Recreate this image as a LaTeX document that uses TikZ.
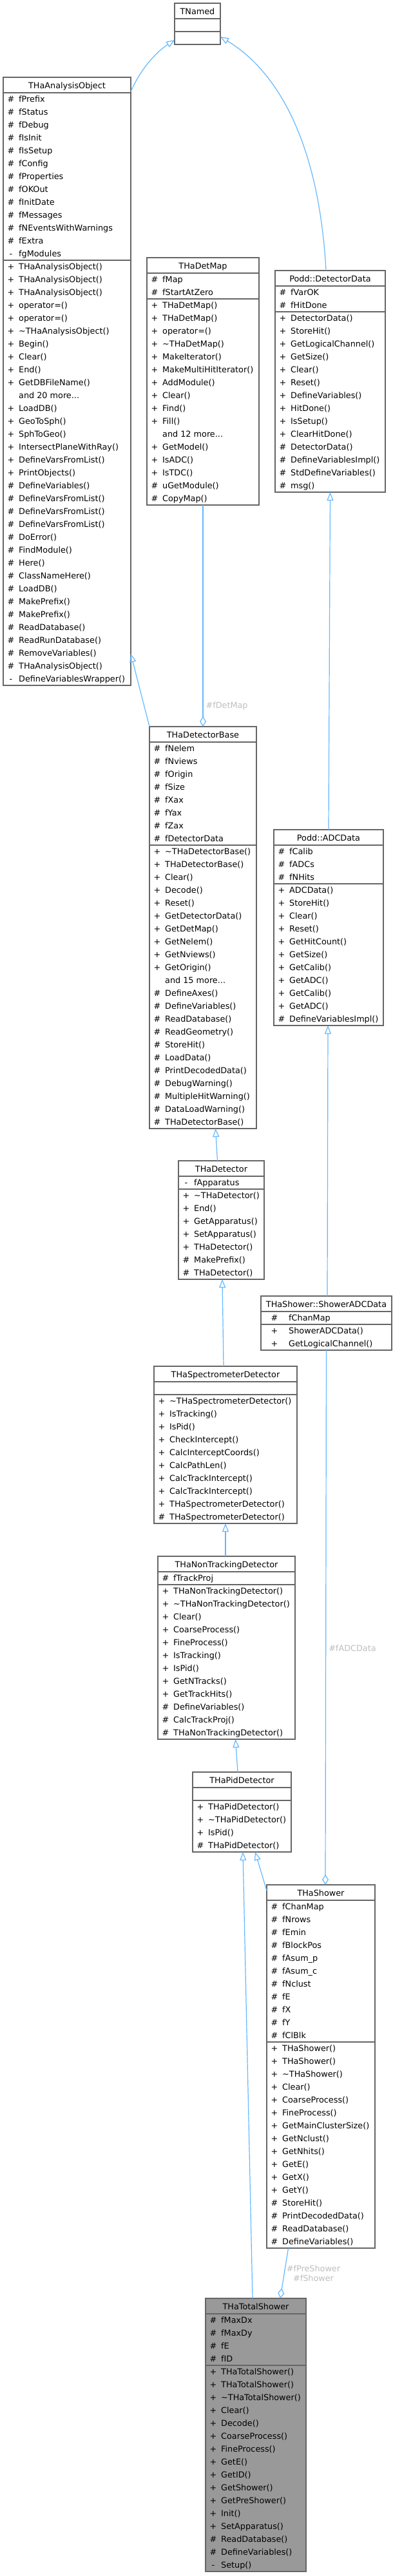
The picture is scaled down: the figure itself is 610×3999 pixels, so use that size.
\documentclass[tikz,border=0pt]{standalone}
\usepackage{fontspec}
\setmainfont{DejaVu Sans}
\usetikzlibrary{arrows.meta,calc}

\definecolor{edgeblue}{HTML}{63B8FF}
\definecolor{boxgrey}{HTML}{666666}
\definecolor{labelgrey}{HTML}{BEBEBE}
\definecolor{totalgrey}{HTML}{999999}

% column of the visibility sign and of the member name
\newcommand{\symx}{12}
\newcommand{\txtx}{24}

% #1 name, #2 left, #3 top, #4 width, #5 title,
% #6 no. of attributes, #7 attributes, #8 no. of methods, #9 methods
\newcommand{\umlclass}[9]{%
  \pgfmathsetmacro{\atth}{max(#6,1)*20}%
  \pgfmathsetmacro{\meth}{max(#8,1)*20}%
  \draw (#2,#3) node[classbox, minimum width=#4, minimum height=24+\atth+\meth] (#1) {};
  \node[classtitle] (#1-title) at ($(#1.north)+(0,17)$) {#5};
  \draw[classline] ($(#1.north west)+(0,24)$) -- ++(#4,0);
  \draw[classline] ($(#1.north west)+(0,{24+\atth})$) -- ++(#4,0);
  \ifnum#6>0\relax
  \foreach \vis/\mem [count=\i] in {#7}{%
    \node[rowsym] (#1-as\i) at ($(#1.north west)+(\symx,{20*\i+18})$) {\vis};
    \node[rowtext] (#1-at\i) at ($(#1.north west)+(\txtx,{20*\i+18})$) {\mem};
  }\fi
  \ifnum#8>0\relax
  \foreach \vis/\mem [count=\i] in {#9}{%
    \node[rowsym] (#1-ms\i) at ($(#1.north west)+(\symx,{\atth+20*\i+18})$) {\vis};
    \node[rowtext] (#1-mt\i) at ($(#1.north west)+(\txtx,{\atth+20*\i+18})$) {\mem};
  }\fi
}

\begin{document}
\begin{tikzpicture}[x=1pt, y=-1pt, font=\fontsize{12.8}{15}\selectfont]
\tikzstyle{classbox}=[draw=boxgrey, line width=1.2pt, fill=white, rectangle, anchor=north west, inner sep=0pt, outer sep=0pt]
\tikzstyle{classline}=[draw=boxgrey, line width=1.2pt]
\tikzstyle{classtitle}=[anchor=base, inner sep=0pt]
\tikzstyle{rowsym}=[anchor=base, inner sep=0pt]
\tikzstyle{rowtext}=[anchor=base west, inner sep=0pt]
\tikzstyle{inherit}=[draw=edgeblue, line width=1.2pt, -{Triangle[open, length=13pt, width=10pt]}]
\tikzstyle{aggr}=[draw=edgeblue, line width=1.2pt, -{Diamond[open, length=16pt, width=10pt]}]
\tikzstyle{elabel}=[text=labelgrey, inner sep=0pt]

\useasboundingbox (0,0) rectangle (610,3999);

\umlclass{tnamed}{271}{5}{71}{TNamed}{0}{}{0}{}

\umlclass{aobj}{5}{120}{198}{THaAnalysisObject}
  {13}{\#/fPrefix, \#/fStatus, \#/fDebug, \#/fIsInit, \#/fIsSetup, \#/fConfig, \#/fProperties,
   \#/fOKOut, \#/fInitDate, \#/fMessages, \#/fNEventsWithWarnings, \#/fExtra, -/fgModules}
  {33}{+/THaAnalysisObject(), +/THaAnalysisObject(), +/THaAnalysisObject(), +/operator=(),
   +/operator=(), +/\textasciitilde THaAnalysisObject(), +/Begin(), +/Clear(), +/End(),
   +/GetDBFileName(), {}/{and 20 more...}, +/LoadDB(), +/GeoToSph(), +/SphToGeo(),
   +/IntersectPlaneWithRay(), +/DefineVarsFromList(), +/PrintObjects(), \#/DefineVariables(),
   \#/DefineVarsFromList(), \#/DefineVarsFromList(), \#/DefineVarsFromList(), \#/DoError(),
   \#/FindModule(), \#/Here(), \#/ClassNameHere(), \#/LoadDB(), \#/MakePrefix(), \#/MakePrefix(),
   \#/ReadDatabase(), \#/ReadRunDatabase(), \#/RemoveVariables(), \#/THaAnalysisObject(),
   -/DefineVariablesWrapper()}

\umlclass{detmap}{228}{400}{174}{THaDetMap}
  {2}{\#/fMap, \#/fStartAtZero}
  {16}{+/THaDetMap(), +/THaDetMap(), +/operator=(), +/\textasciitilde THaDetMap(), +/MakeIterator(),
   +/MakeMultiHitIterator(), +/AddModule(), +/Clear(), +/Find(), +/Fill(), {}/{and 12 more...},
   +/GetModel(), +/IsADC(), +/IsTDC(), \#/uGetModule(), \#/CopyMap()}

\umlclass{ddata}{427}{420}{171}{Podd::DetectorData}
  {2}{\#/fVarOK, \#/fHitDone}
  {14}{+/DetectorData(), +/StoreHit(), +/GetLogicalChannel(), +/GetSize(), +/Clear(), +/Reset(),
   +/DefineVariables(), +/HitDone(), +/IsSetup(), +/ClearHitDone(), \#/DetectorData(),
   \#/DefineVariablesImpl(), \#/StdDefineVariables(), \#/msg()}

\umlclass{detbase}{232}{1128}{166}{THaDetectorBase}
  {8}{\#/fNelem, \#/fNviews, \#/fOrigin, \#/fSize, \#/fXax, \#/fYax, \#/fZax, \#/fDetectorData}
  {22}{+/\textasciitilde THaDetectorBase(), +/THaDetectorBase(), +/Clear(), +/Decode(), +/Reset(),
   +/GetDetectorData(), +/GetDetMap(), +/GetNelem(), +/GetNviews(), +/GetOrigin(),
   {}/{and 15 more...}, \#/DefineAxes(), \#/DefineVariables(), \#/ReadDatabase(),
   \#/ReadGeometry(), \#/StoreHit(), \#/LoadData(), \#/PrintDecodedData(), \#/DebugWarning(),
   \#/MultipleHitWarning(), \#/DataLoadWarning(), \#/THaDetectorBase()}

\umlclass{adc}{425}{1288}{170}{Podd::ADCData}
  {3}{\#/fCalib, \#/fADCs, \#/fNHits}
  {11}{+/ADCData(), +/StoreHit(), +/Clear(), +/Reset(), +/GetHitCount(), +/GetSize(),
   +/GetCalib(), +/GetADC(), +/GetCalib(), +/GetADC(), \#/DefineVariablesImpl()}

\umlclass{det}{277}{1802}{133}{THaDetector}
  {1}{-/fApparatus}
  {7}{+/\textasciitilde THaDetector(), +/End(), +/GetApparatus(), +/SetApparatus(),
   +/THaDetector(), \#/MakePrefix(), \#/THaDetector()}

\begin{scope}
\renewcommand{\symx}{21}\renewcommand{\txtx}{43}
\umlclass{sadc}{405}{2012}{203}{THaShower::ShowerADCData}
  {1}{\#/fChanMap}
  {2}{+/ShowerADCData(), +/GetLogicalChannel()}
\end{scope}

\umlclass{spec}{239}{2121}{222}{THaSpectrometerDetector}
  {0}{}
  {10}{+/\textasciitilde THaSpectrometerDetector(), +/IsTracking(), +/IsPid(), +/CheckIntercept(),
   +/CalcInterceptCoords(), +/CalcPathLen(), +/CalcTrackIntercept(), +/CalcTrackIntercept(),
   +/THaSpectrometerDetector(), \#/THaSpectrometerDetector()}

\umlclass{nontr}{245}{2416}{213}{THaNonTrackingDetector}
  {1}{\#/fTrackProj}
  {12}{+/THaNonTrackingDetector(), +/\textasciitilde THaNonTrackingDetector(), +/Clear(),
   +/CoarseProcess(), +/FineProcess(), +/IsTracking(), +/IsPid(), +/GetNTracks(),
   +/GetTrackHits(), \#/DefineVariables(), \#/CalcTrackProj(), \#/THaNonTrackingDetector()}

\umlclass{pid}{299}{2751}{153}{THaPidDetector}
  {0}{}
  {4}{+/THaPidDetector(), +/\textasciitilde THaPidDetector(), +/IsPid(), \#/THaPidDetector()}

\umlclass{shower}{414}{2926}{168}{THaShower}
  {11}{\#/fChanMap, \#/fNrows, \#/fEmin, \#/fBlockPos, \#/fAsum\_p, \#/fAsum\_c, \#/fNclust,
   \#/fE, \#/fX, \#/fY, \#/fClBlk}
  {16}{+/THaShower(), +/THaShower(), +/\textasciitilde THaShower(), +/Clear(), +/CoarseProcess(),
   +/FineProcess(), +/GetMainClusterSize(), +/GetNclust(), +/GetNhits(), +/GetE(), +/GetX(),
   +/GetY(), \#/StoreHit(), \#/PrintDecodedData(), \#/ReadDatabase(), \#/DefineVariables()}

\begin{scope}[classbox/.append style={fill=totalgrey}]
\umlclass{total}{319}{3568}{156}{THaTotalShower}
  {4}{\#/fMaxDx, \#/fMaxDy, \#/fE, \#/fID}
  {16}{+/THaTotalShower(), +/THaTotalShower(), +/\textasciitilde THaTotalShower(), +/Clear(),
   +/Decode(), +/CoarseProcess(), +/FineProcess(), +/GetE(), +/GetID(), +/GetShower(),
   +/GetPreShower(), +/Init(), +/SetApparatus(), \#/ReadDatabase(), \#/DefineVariables(),
   -/Setup()}
\end{scope}

% inheritance
\draw[inherit] ([yshift=-22pt]aobj.north east) .. controls +(19,-42) and +(-24,16) .. ([yshift=7pt]tnamed.south west);
\draw[inherit] ([xshift=-6.5pt]ddata.north) .. controls +(-11,-200) and +(88,53) .. ([yshift=12pt]tnamed.south east);
\draw[inherit] (detbase.north west) -- ([yshift=49pt]aobj.south east);
\draw[inherit] (adc.north) -- (ddata.south);
\draw[inherit] ([xshift=-6pt]det.north) -- ([xshift=19.5pt]detbase.south);
\draw[inherit] ([xshift=1.5pt]sadc.north) -- ([xshift=-1pt]adc.south);
\draw[inherit] ([xshift=-3pt]spec.north) -- ([xshift=1.5pt]det.south);
\draw[inherit] ([xshift=-1.5pt]nontr.north) -- (spec.south);
\draw[inherit] ([xshift=-6.5pt]pid.north) -- ([xshift=14pt]nontr.south);
\draw[inherit] ([xshift=-5pt]total.north) -- ([xshift=1.5pt]pid.south);
\draw[inherit] ([yshift=-9pt]shower.north west) -- ([xshift=20.5pt]pid.south);

% usage
\draw[aggr] (detmap.south) -- node[elabel, pos=0.907, anchor=west, xshift=4pt] (lbl-detmap) {\#fDetMap} (detbase.north);
\draw[aggr] (sadc.south) -- node[elabel, pos=0.557, anchor=west, xshift=4pt] (lbl-adcdata) {\#fADCData} ([xshift=7pt]shower.north);
\draw[aggr] ([xshift=-50.5pt]shower.south) -- node[elabel, pos=0.5, anchor=west, xshift=3pt, align=center] (lbl-shower) {\#fPreShower\\\#fShower} ([xshift=38pt]total.north);
\end{tikzpicture}
\end{document}
